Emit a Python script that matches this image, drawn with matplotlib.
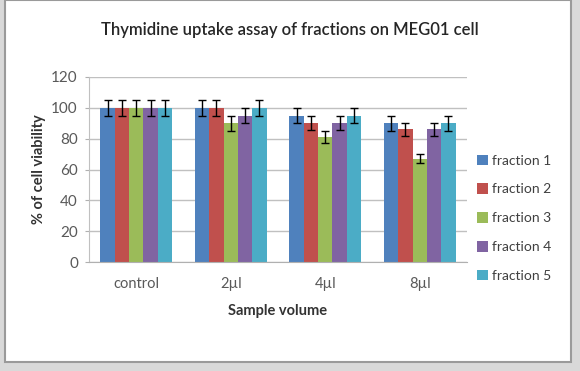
import matplotlib.pyplot as plt
import numpy as np
from matplotlib.patches import Rectangle

plt.rcParams['font.family'] = ['Lato', 'DejaVu Sans']

# data
groups = ["control", "2µl", "4µl", "8µl"]
series = ["fraction 1", "fraction 2", "fraction 3", "fraction 4", "fraction 5"]
f1 = [100, 100, 95, 90]
f2 = [100, 100, 90, 86]
f3 = [100, 90, 81, 67]
f4 = [100, 95, 90, 86]
f5 = [100, 100, 95, 90]
e1 = [5, 5, 5, 5]
e2 = [5, 5, 4.5, 4]
e3 = [5, 5, 4, 3]
e4 = [5, 5, 4.5, 4]
e5 = [5, 5, 5, 5]
values = [f1, f2, f3, f4, f5]
errors = [e1, e2, e3, e4, e5]
colors = ["#4F81BD", "#C0504D", "#9BBB59", "#8064A2", "#4BACC6"]

fig = plt.figure(figsize=(5.8, 3.71), dpi=100)
fig.patch.set_facecolor("#d9d9d9")
# white chart frame
fig.patches.append(Rectangle((5/580, 1 - 362/371), 566/580, 362/371,
                             transform=fig.transFigure, facecolor="white",
                             edgecolor="#9a9a9a", linewidth=1.5, zorder=-1))

ax = fig.add_axes([89/580, 1 - 262/371, 378/580, 185/371])
ax.set_zorder(1)
ax.set_facecolor("white")

x = np.arange(len(groups))
w = 0.152
for i, (vals, errs) in enumerate(zip(values, errors)):
    pos = x + (i - 2) * w
    ax.bar(pos, vals, w, color=colors[i], label=series[i], zorder=2)
    ax.errorbar(pos, vals, yerr=errs, fmt="none", ecolor="black",
                elinewidth=1, capsize=3, capthick=1, zorder=3)

ax.set_xlim(-0.5, 3.5)
ax.set_ylim(0, 120)
ax.set_yticks(range(0, 121, 20))
ax.yaxis.grid(True, color="#c0c0c0", linewidth=1, zorder=0)
ax.set_axisbelow(True)
ax.set_xticks(x)
ax.set_xticklabels(groups)
ax.tick_params(axis="x", length=0, pad=11, labelsize=10.5, labelcolor="#595959")
ax.tick_params(axis="y", length=3, color="#b0b0b0", pad=5, labelsize=11, labelcolor="#595959")
for s in ["top", "right"]:
    ax.spines[s].set_visible(False)
ax.spines["left"].set_color("#c0c0c0")
ax.spines["bottom"].set_color("#b0b0b0")

ax.set_xlabel("Sample volume", fontsize=10.5, fontweight="bold", color="#333333", labelpad=9)
ax.set_ylabel("% of cell viability", fontsize=10.5, fontweight="bold", color="#333333", labelpad=4)

fig.text(290/580, 1 - 30/371, "Thymidine uptake assay of fractions on MEG01 cell",
         ha="center", va="center", fontsize=12, fontweight="semibold", color="#262626")

ax.legend(loc="upper left", bbox_to_anchor=(464/580, 1 - 142/371),
          bbox_transform=fig.transFigure, frameon=False, fontsize=10,
          handlelength=0.8, handleheight=0.8, handletextpad=0.3,
          labelspacing=1.2, labelcolor="#404040")

fig.savefig("out.png", dpi=100, facecolor=fig.get_facecolor())
